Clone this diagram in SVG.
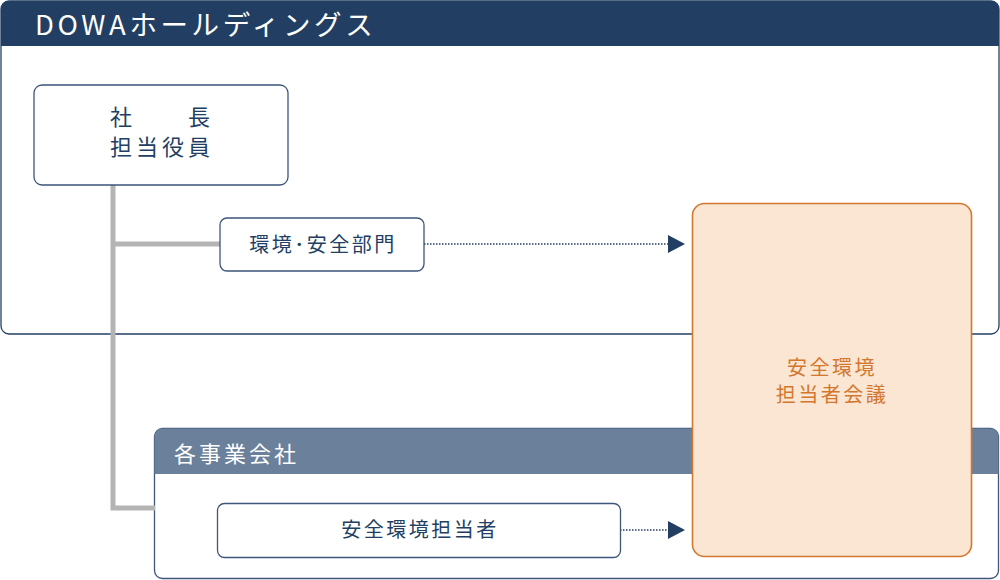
<svg xmlns="http://www.w3.org/2000/svg" width="1000" height="580" viewBox="0 0 1000 580">
<defs>
<style>
text{font-family:"Noto Sans CJK JP","Noto Sans",sans-serif;}
.box{fill:#ffffff;stroke:#3d5679;stroke-width:1.3;}
.lbl{fill:#223f63;font-size:20px;letter-spacing:2.5px;}
.gray{stroke:#b4b4b4;stroke-width:5;fill:none;}
.dot{stroke:#223f63;stroke-width:1.3;stroke-dasharray:1.5 1.5;fill:none;}
</style>
<marker id="arr" markerWidth="18" markerHeight="18" refX="0" refY="9" orient="auto" markerUnits="userSpaceOnUse">
<path d="M0,0 L17,9 L0,18 Z" fill="#223f63"/>
</marker>
</defs>
<g id="dowa">
<rect x="1" y="1" width="998" height="333" rx="8" fill="#ffffff" stroke="#223f63" stroke-width="1.3"/>
<path d="M1,46 V9 a8,8 0 0 1 8,-8 H991 a8,8 0 0 1 8,8 V46 Z" fill="#223f63"/>
<text x="35" y="35" font-size="27.5" fill="#ffffff" letter-spacing="3.6">DOWAホールディングス</text>
</g>
<g id="group">
<rect x="154.5" y="428.5" width="844" height="150" rx="8" fill="#ffffff" stroke="#3d5679" stroke-width="1.3"/>
<path d="M154.5,474 V436.5 a8,8 0 0 1 8,-8 H990.5 a8,8 0 0 1 8,8 V474 Z" fill="#6b809a"/>
<text x="174" y="462" font-size="22" fill="#ffffff" letter-spacing="3">各事業会社</text>
</g>
<g id="connectors">
<path class="gray" d="M113,185 V508 H155"/>
<path class="gray" d="M113,244 H220"/>
<path class="dot" d="M424,244 H668" marker-end="url(#arr)"/>
<path class="dot" d="M620,530 H668" marker-end="url(#arr)"/>
</g>
<g id="president">
<rect class="box" x="34" y="85" width="254" height="100" rx="8"/>
<text class="lbl" x="110" y="125" font-size="22" style="font-size:22px;letter-spacing:4px">社　　長</text>
<text class="lbl" x="110" y="155" style="font-size:22px;letter-spacing:4px">担当役員</text>
</g>
<g id="dept">
<rect class="box" x="220" y="218" width="204" height="53" rx="7"/>
<text class="lbl" x="323" y="252" text-anchor="middle">環境･安全部門</text>
</g>
<g id="manager">
<rect class="box" x="217.5" y="503.5" width="403" height="54" rx="7"/>
<text class="lbl" x="420" y="537" text-anchor="middle">安全環境担当者</text>
</g>
<g id="meeting">
<rect x="692.5" y="203.5" width="279" height="353" rx="12" fill="#fbe6d3" stroke="#d3772e" stroke-width="1.6"/>
<text x="832" y="375" font-size="20" fill="#d3772e" text-anchor="middle" letter-spacing="2.5">安全環境</text>
<text x="832" y="402" font-size="20" fill="#d3772e" text-anchor="middle" letter-spacing="2.5">担当者会議</text>
</g>
</svg>
